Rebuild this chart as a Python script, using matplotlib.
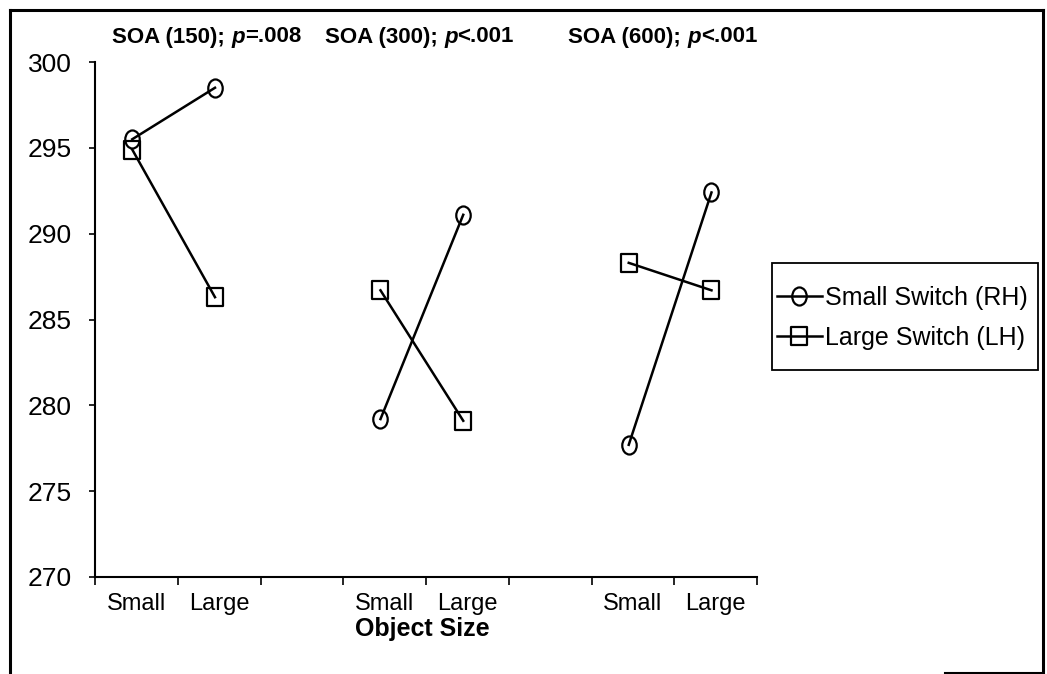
import matplotlib
matplotlib.use("Agg")
import matplotlib.pyplot as plt
from matplotlib.path import Path
from matplotlib.lines import Line2D
from matplotlib.patches import Rectangle
from matplotlib.offsetbox import TextArea, HPacker, AnnotationBbox
import numpy as np

plt.rcParams['font.family'] = ['Liberation Sans', 'DejaVu Sans']

# data
size_labels = ["Small", "Large"]
soa_titles = ["SOA (150); ", "SOA (300); ", "SOA (600); "]
p_texts = ["=.008", "<.001", "<.001"]
small_switch_rh = [[295.5, 298.5], [279.2, 291.1], [277.7, 292.4]]
large_switch_lh = [[294.9, 286.3], [286.7, 279.1], [288.3, 286.7]]
y_ticks = [270, 275, 280, 285, 290, 295, 300]

# slightly tall markers like the original
circ = Path.unit_circle()
ellipse = Path(circ.vertices * [0.8, 1.0], circ.codes)
square = Path([(-0.42, -0.5), (0.42, -0.5), (0.42, 0.5), (-0.42, 0.5), (-0.42, -0.5)],
              [Path.MOVETO, Path.LINETO, Path.LINETO, Path.LINETO, Path.CLOSEPOLY])

W, H = 1047, 674
fig = plt.figure(figsize=(W / 100, H / 100), dpi=100)
ax = fig.add_axes([95 / W, 1 - 577 / H, 662 / W, 515 / H])

style = dict(color="black", lw=1.8, markersize=13, markerfacecolor="none",
             markeredgecolor="black", markeredgewidth=1.6)
for g in range(3):
    xs = [g * 3 - 0.05, g * 3 + 1 - 0.05]
    ax.plot(xs, small_switch_rh[g], marker=ellipse, **style)
    ax.plot(xs, large_switch_lh[g], marker=square, **style)

ax.set_xlim(-0.5, 7.5)
ax.set_ylim(270, 300)
ax.set_yticks(y_ticks)
ax.set_yticklabels([str(t) for t in y_ticks], fontsize=19)
ax.set_xticks(np.arange(-0.5, 8, 1))
ax.set_xticklabels([])
ax.tick_params(axis="y", direction="out", length=4.5, width=1.2, pad=12)
ax.tick_params(axis="x", direction="out", length=6, width=1.2)
for s in ["top", "right"]:
    ax.spines[s].set_visible(False)
for s in ["left", "bottom"]:
    ax.spines[s].set_linewidth(1.5)

for g in range(3):
    for k, lab in enumerate(size_labels):
        ax.text(g * 3 + k, 268.4, lab, ha="center", va="center", fontsize=17,
                transform=ax.transData)
ax.text(3.45, 266.95, "Object Size", ha="center", va="center", fontsize=18,
        fontweight="bold")

# titles with italic p
title_x = [112, 325, 568]
for g in range(3):
    parts = [TextArea(soa_titles[g], textprops=dict(fontsize=16, fontweight="bold")),
             TextArea("p", textprops=dict(fontsize=16, fontweight="bold", style="italic")),
             TextArea(p_texts[g], textprops=dict(fontsize=16, fontweight="bold"))]
    box = HPacker(children=parts, align="baseline", pad=0, sep=0)
    ab = AnnotationBbox(box, (title_x[g], H - 37), xycoords="figure pixels",
                        box_alignment=(0, 0.5), frameon=False, pad=0)
    fig.add_artist(ab)

# legend with its own box
fig.add_artist(Rectangle((772 / W, 1 - 370 / H), 266 / W, 107 / H,
                         transform=fig.transFigure, fill=False,
                         edgecolor="black", lw=1.3))
handles = [Line2D([], [], marker=ellipse, **style), Line2D([], [], marker=square, **style)]
leg = fig.legend(handles, ["Small Switch (RH)", "Large Switch (LH)"],
                 loc="center left", bbox_to_anchor=(774 / W, 1 - 318 / H),
                 fontsize=18, frameon=False, handlelength=1.8, handletextpad=0.15,
                 borderpad=0.1, labelspacing=0.65, borderaxespad=0)

# outer frame of the figure
fig.add_artist(Line2D([10 / W, 10 / W], [0, 1 - 10 / H], color="black", lw=2.2))
fig.add_artist(Line2D([10 / W, 1043 / W], [1 - 10 / H, 1 - 10 / H], color="black", lw=2.2))
fig.add_artist(Line2D([1043 / W, 1043 / W], [0, 1 - 10 / H], color="black", lw=2.2))
fig.add_artist(Line2D([945 / W, 1043 / W], [1.5 / H, 1.5 / H], color="black", lw=1.5))

fig.savefig("out.png", dpi=100)
